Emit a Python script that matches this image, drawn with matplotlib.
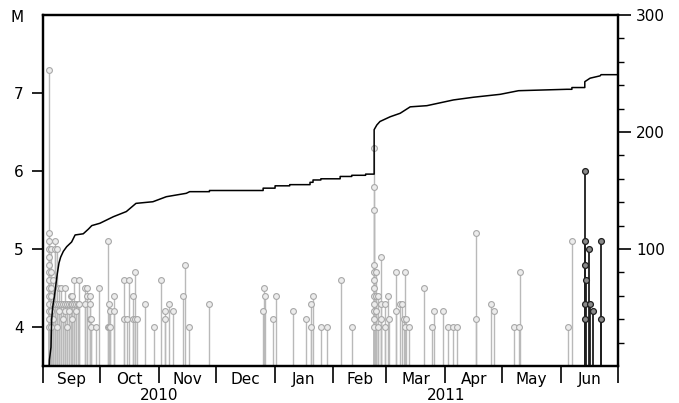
import matplotlib
matplotlib.use("Agg")
import matplotlib.pyplot as plt
import matplotlib.transforms as mtransforms
import pandas as pd

# ---- stem events (gray: Sep 2010 - early Jun 2011) ----
gray_dates = (
    ["2010-09-04 07:00"] * 14 + ["2010-09-05 06:00"] * 6 + ["2010-09-06 12:00"] * 3 +
    ["2010-09-07 08:00"] * 3 + ["2010-09-08 12:00"] * 3 + ["2010-09-09 14:00"] * 3 +
    ["2010-09-10 12:00"] * 2 + ["2010-09-11 12:00"] * 2 + ["2010-09-12 14:00"] * 3 +
    ["2010-09-13 12:00"] * 2 + ["2010-09-14 12:00"] * 2 + ["2010-09-15 12:00"] * 2 +
    ["2010-09-16 12:00"] * 3 + ["2010-09-17 06:00"] * 2 + ["2010-09-18 06:00"] * 2 +
    ["2010-09-19 06:00"] + ["2010-09-20 02:00"] * 2 + ["2010-09-23 02:00"] * 2 +
    ["2010-09-24 10:00"] * 2 + ["2010-09-25 19:00"] * 3 + ["2010-09-26 08:00"] * 2 +
    ["2010-09-28 22:00"] + ["2010-09-30 12:00"] +
    ["2010-10-05 02:00"] * 2 + ["2010-10-05 14:00"] * 2 + ["2010-10-06 12:00"] * 2 +
    ["2010-10-08 14:00"] * 2 + ["2010-10-13 22:00"] * 2 + ["2010-10-15 05:00"] +
    ["2010-10-16 05:00"] + ["2010-10-18 14:00"] * 2 + ["2010-10-19 17:00"] * 2 +
    ["2010-10-20 14:00"] + ["2010-10-24 22:00"] + ["2010-10-29 12:00"] +
    ["2010-11-02 00:00"] + ["2010-11-04 07:00"] * 2 + ["2010-11-06 07:00"] +
    ["2010-11-08 10:00"] + ["2010-11-13 22:00"] + ["2010-11-15 00:00"] +
    ["2010-11-17 02:00"] + ["2010-11-27 17:00"] +
    ["2010-12-25 19:00", "2010-12-26 12:00", "2010-12-27 00:00", "2010-12-31 10:00",
     "2011-01-01 17:00", "2011-01-10 22:00", "2011-01-17 14:00"] +
    ["2011-01-20 02:00"] * 2 +
    ["2011-01-21 05:00", "2011-01-25 10:00", "2011-01-28 22:00", "2011-02-04 22:00",
     "2011-02-10 17:00"] +
    ["2011-02-22 12:00"] * 12 + ["2011-02-23 12:00"] * 3 + ["2011-02-24 19:00"] * 2 +
    ["2011-02-25 22:00"] * 3 + ["2011-02-28 06:00"] * 2 + ["2011-03-01 14:00"] +
    ["2011-03-02 10:00"] + ["2011-03-05 19:00"] * 2 + ["2011-03-08 05:00"] +
    ["2011-03-09 05:00"] + ["2011-03-10 00:00"] + ["2011-03-10 19:00"] * 2 +
    ["2011-03-11 12:00"] + ["2011-03-13 00:00"] + ["2011-03-21 00:00"] +
    ["2011-03-24 22:00", "2011-03-26 02:00", "2011-03-31 00:00", "2011-04-02 07:00",
     "2011-04-04 19:00", "2011-04-07 05:00"] +
    ["2011-04-16 22:00"] * 2 +
    ["2011-04-25 00:00", "2011-04-26 22:00", "2011-05-07 10:00", "2011-05-09 14:00",
     "2011-05-10 07:00", "2011-06-04 10:00", "2011-06-06 17:00"]
)
gray_mags = (
    [7.3, 5.2, 5.1, 5.0, 4.9, 4.8, 4.7, 4.6, 4.5, 4.4, 4.3, 4.2, 4.1, 4.0] +
    [5.0, 4.7, 4.5, 4.4, 4.2, 4.0] + [4.6, 4.3, 4.1] +
    [5.1, 5.0, 4.3] + [5.0, 4.3, 4.0] + [4.5, 4.3, 4.2] +
    [4.5, 4.3] + [4.3, 4.1] + [4.5, 4.3, 4.2] +
    [4.3, 4.0] + [4.3, 4.2] + [4.4, 4.3] +
    [4.4, 4.3, 4.1] + [4.6, 4.3] + [4.3, 4.2] +
    [4.3] + [4.6, 4.3] + [4.5, 4.3] +
    [4.5, 4.4] + [4.4, 4.3, 4.1] + [4.1, 4.0] +
    [4.0] + [4.5] +
    [5.1, 4.0] + [4.3, 4.0] + [4.2, 4.0] +
    [4.4, 4.2] + [4.6, 4.1] + [4.1] +
    [4.6] + [4.4, 4.1] + [4.7, 4.1] +
    [4.1] + [4.3] + [4.0] +
    [4.6] + [4.2, 4.1] + [4.3] +
    [4.2] + [4.4] + [4.8] +
    [4.0] + [4.3] +
    [4.2, 4.5, 4.4, 4.1, 4.4, 4.2, 4.1] +
    [4.3, 4.0] +
    [4.4, 4.0, 4.0, 4.6, 4.0] +
    [6.3, 5.8, 5.5, 4.8, 4.7, 4.6, 4.5, 4.4, 4.3, 4.2, 4.1, 4.0] + [4.7, 4.4, 4.2] + [4.4, 4.0] +
    [4.9, 4.3, 4.1] + [4.3, 4.0] + [4.4] +
    [4.1] + [4.7, 4.2] + [4.3] +
    [4.3] + [4.1] + [4.7, 4.0] +
    [4.1] + [4.0] + [4.5] +
    [4.0, 4.2, 4.2, 4.0, 4.0, 4.0] +
    [5.2, 4.1] +
    [4.3, 4.2, 4.0, 4.0, 4.7, 4.0, 5.1]
)

# ---- stem events (dark: mid June 2011) ----
dark_dates = (["2011-06-13 17:00"] * 5 + ["2011-06-14 05:00", "2011-06-15 14:00",
              "2011-06-16 00:00", "2011-06-17 19:00"] + ["2011-06-22 02:00"] * 2)
dark_mags = [6.0, 5.1, 4.8, 4.3, 4.1, 4.6, 5.0, 4.3, 4.2, 5.1, 4.1]

# ---- cumulative number of events (right axis), vertices ----
cum_dates = [
    "2010-09-04 07:00", "2010-09-04 09:00", "2010-09-05 05:00", "2010-09-05 13:00",
    "2010-09-06 02:00", "2010-09-06 23:00", "2010-09-07 20:00", "2010-09-08 13:00",
    "2010-09-09 10:00", "2010-09-10 07:00", "2010-09-11 17:00", "2010-09-13 12:00",
    "2010-09-16 02:00", "2010-09-17 22:00", "2010-09-22 05:00", "2010-09-24 22:00",
    "2010-09-26 17:00", "2010-10-01 00:00", "2010-10-08 02:00", "2010-10-14 22:00",
    "2010-10-20 00:00", "2010-10-28 22:00", "2010-11-05 00:00", "2010-11-15 12:00",
    "2010-11-17 07:00", "2010-11-27 17:00", "2010-11-27 17:00",
    "2010-12-26 00:00", "2010-12-26 00:00", "2011-01-01 07:00", "2011-01-01 07:00",
    "2011-01-09 00:00", "2011-01-09 00:00", "2011-01-19 17:00", "2011-01-19 17:00",
    "2011-01-21 07:00", "2011-01-21 07:00", "2011-01-25 10:00", "2011-01-25 10:00",
    "2011-02-04 14:00", "2011-02-04 14:00", "2011-02-10 17:00", "2011-02-10 17:00",
    "2011-02-18 00:00", "2011-02-18 00:00", "2011-02-22 12:00", "2011-02-22 12:00",
    "2011-02-23 22:00", "2011-02-25 14:00", "2011-03-02 22:00", "2011-03-08 05:00",
    "2011-03-13 12:00", "2011-03-22 07:00", "2011-04-05 07:00", "2011-04-15 19:00",
    "2011-04-29 22:00", "2011-05-09 14:00", "2011-06-04 02:00", "2011-06-06 17:00",
    "2011-06-06 17:00", "2011-06-13 12:00", "2011-06-13 12:00", "2011-06-16 07:00",
    "2011-06-21 14:00", "2011-06-22 02:00", "2011-07-01 00:00",
]
cum_counts = [
    0, 5, 16, 39,
    50, 59, 70, 79,
    88, 93, 98, 102,
    106, 112, 113, 117,
    120, 122, 127.6, 132,
    139, 140.4, 144.7, 147.6,
    149, 149, 150,
    150, 152, 152, 154,
    154, 155, 155, 157,
    157, 159, 159, 160,
    160, 162, 162, 163,
    163, 164, 164, 202,
    206, 209, 213, 216,
    221.5, 222.5, 227.4, 229.7,
    232.2, 235.3, 236.5, 236.5,
    238, 238, 243, 246,
    248, 249, 249,
]

month_labels = ["Sep", "Oct", "Nov", "Dec", "Jan", "Feb", "Mar", "Apr", "May", "Jun"]
year_labels = ["2010", "2011"]

# ---------------------------------------------------------------
plt.rcParams["font.family"] = ["DejaVu Sans"]
plt.rcParams["font.size"] = 11

fig = plt.figure(figsize=(6.79, 4.03), dpi=100)
ax = fig.add_axes([43 / 679, 1 - 366 / 403, (618 - 43) / 679, (366 - 15) / 403])
ax2 = ax.twinx()

gd = pd.to_datetime(gray_dates)
dd = pd.to_datetime(dark_dates)
cd = pd.to_datetime(cum_dates)

ymin = 3.5
gray = "#b9b9b9"
ax.vlines(gd, ymin, gray_mags, color=gray, lw=1.0, zorder=2)
ax.plot(gd, gray_mags, "o", ms=4.2, mfc="#ececec", mec="#a8a8a8", mew=0.8,
        zorder=3, clip_on=False)
ax.vlines(dd, ymin, dark_mags, color="#1e1e1e", lw=1.3, zorder=4)
ax.plot(dd, dark_mags, "o", ms=4.2, mfc="#8a8a8a", mec="#1e1e1e", mew=0.9,
        zorder=5, clip_on=False)

ax2.plot(cd, cum_counts, color="black", lw=1.1, zorder=6)

# limits
x0 = pd.Timestamp("2010-09-01")
x1 = pd.Timestamp("2011-07-01")
ax.set_xlim(x0, x1)
ax.set_ylim(3.5, 8.0)
ax2.set_ylim(0, 300)

# left axis
ax.set_yticks([4, 5, 6, 7])
ax.tick_params(axis="y", direction="out", length=8, width=1.2, labelsize=11, pad=6)

# right axis
ax2.set_yticks([100, 200, 300])
ax2.set_yticks([v for v in range(20, 300, 20) if v % 100 != 0], minor=True)
ax2.tick_params(axis="y", which="major", direction="out", length=9, width=1.2,
                labelsize=11, pad=4)
ax2.tick_params(axis="y", which="minor", direction="out", length=4, width=1.0)

# x axis: month boundaries as ticks, month names centred between
bounds = pd.date_range(x0, x1, freq="MS")
mids = [bounds[i] + (bounds[i + 1] - bounds[i]) / 2 for i in range(len(bounds) - 1)]
ax.set_xticks(bounds)
ax.set_xticklabels([""] * len(bounds))
ax.set_xticks(mids, minor=True)
ax.set_xticklabels(month_labels, minor=True)
ax.tick_params(axis="x", which="major", direction="out", length=12, width=1.2)
ax.tick_params(axis="x", which="minor", length=0, pad=4, labelsize=11)

trans = mtransforms.blended_transform_factory(ax.transData, ax.transAxes)
y_starts = [x0, pd.Timestamp("2011-01-01")]
y_ends = [pd.Timestamp("2011-01-01"), x1]
for lab, s, e in zip(year_labels, y_starts, y_ends):
    ax.text(s + (e - s) / 2, -0.084, lab, transform=trans, ha="center", va="center",
            fontsize=11)

for sp in ax.spines.values():
    sp.set_linewidth(1.6)
for sp in ax2.spines.values():
    sp.set_linewidth(1.6)

fig.text(17 / 679, 1 - 17 / 403, "M", ha="center", va="center", fontsize=11)

fig.savefig("out.png", dpi=100)
